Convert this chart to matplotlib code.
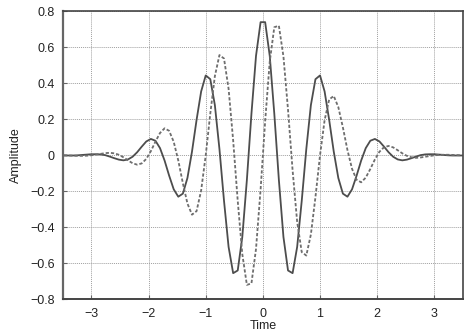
import matplotlib
matplotlib.use("Agg")
import matplotlib.pyplot as plt

plt.rcParams['font.family'] = ['Liberation Sans', 'DejaVu Sans']

# sample times (s)
time = [-3.48, -3.40, -3.32, -3.24, -3.16, -3.08, -3.00, -2.92, -2.84, -2.76,
        -2.68, -2.60, -2.52, -2.44, -2.36, -2.28, -2.20, -2.12, -2.04, -1.96,
        -1.88, -1.80, -1.72, -1.64, -1.56, -1.48, -1.40, -1.32, -1.24, -1.16,
        -1.08, -1.00, -0.92, -0.84, -0.76, -0.68, -0.60, -0.52, -0.44, -0.36,
        -0.28, -0.20, -0.12, -0.04,
        0.04, 0.12, 0.20, 0.28, 0.36, 0.44, 0.52, 0.60, 0.68, 0.76,
        0.84, 0.92, 1.00, 1.08, 1.16, 1.24, 1.32, 1.40, 1.48, 1.56,
        1.64, 1.72, 1.80, 1.88, 1.96, 2.04, 2.12, 2.20, 2.28, 2.36,
        2.44, 2.52, 2.60, 2.68, 2.76, 2.84, 2.92, 3.00, 3.08, 3.16,
        3.24, 3.32, 3.40, 3.48]

# solid curve
real_part = [-0.001, -0.001, -0.001, 0.000, 0.002, 0.004, 0.006, 0.006, 0.005, 0.001,
             -0.007, -0.016, -0.024, -0.028, -0.023, -0.008, 0.017, 0.048, 0.077, 0.091,
             0.081, 0.040, -0.029, -0.113, -0.189, -0.230, -0.213, -0.126, 0.021, 0.197,
             0.355, 0.444, 0.423, 0.279, 0.035, -0.253, -0.509, -0.655, -0.640, -0.454,
             -0.137, 0.231, 0.553, 0.740,
             0.740, 0.553, 0.231, -0.137, -0.454, -0.640, -0.655, -0.509, -0.253, 0.035,
             0.279, 0.423, 0.444, 0.355, 0.197, 0.021, -0.126, -0.213, -0.230, -0.189,
             -0.113, -0.029, 0.040, 0.081, 0.091, 0.077, 0.048, 0.017, -0.008, -0.023,
             -0.028, -0.024, -0.016, -0.007, 0.001, 0.005, 0.006, 0.006, 0.004, 0.002,
             0.000, -0.001, -0.001, -0.001]

# dashed curve
imag_part = [-0.000, -0.001, -0.002, -0.003, -0.003, -0.002, 0.000, 0.004, 0.008, 0.012,
             0.014, 0.011, 0.003, -0.011, -0.028, -0.044, -0.052, -0.045, -0.020, 0.023,
             0.076, 0.124, 0.150, 0.136, 0.075, -0.029, -0.155, -0.268, -0.330, -0.310,
             -0.195, 0.000, 0.232, 0.440, 0.557, 0.538, 0.370, 0.083, -0.253, -0.549,
             -0.720, -0.712, -0.520, -0.190,
             0.190, 0.520, 0.712, 0.720, 0.549, 0.253, -0.083, -0.370, -0.538, -0.557,
             -0.440, -0.232, 0.000, 0.195, 0.310, 0.330, 0.268, 0.155, 0.029, -0.075,
             -0.136, -0.150, -0.124, -0.076, -0.023, 0.020, 0.045, 0.052, 0.044, 0.028,
             0.011, -0.003, -0.011, -0.014, -0.012, -0.008, -0.004, 0.000, 0.002, 0.003,
             0.003, 0.002, 0.001, 0.000]

x_ticks = [-3, -2, -1, 0, 1, 2, 3]
y_ticks = [-0.8, -0.6, -0.4, -0.2, 0, 0.2, 0.4, 0.6, 0.8]
y_labels = ['\u22120.8', '\u22120.6', '\u22120.4', '\u22120.2', '0', '0.2', '0.4', '0.6', '0.8']
x_labels = ['\u22123', '\u22122', '\u22121', '0', '1', '2', '3']

fig = plt.figure(figsize=(4.69, 3.34), dpi=100)
ax = fig.add_axes([0.134, 0.104, 0.853, 0.862])

ax.plot(time, real_part, color='#4d4d4d', lw=1.3)
ax.plot(time, imag_part, color='#6e6e6e', lw=1.3, linestyle=(0, (1.8, 1.1)))

ax.set_xlim(-3.5, 3.5)
ax.set_ylim(-0.8, 0.8)
ax.set_xticks(x_ticks)
ax.set_xticklabels(x_labels)
ax.set_yticks(y_ticks)
ax.set_yticklabels(y_labels)
ax.tick_params(direction='in', length=3, width=0.8, colors='#666666',
               labelcolor='#222222', labelsize=9, pad=6)

ax.grid(True, color='#a0a0a0', linestyle=(0, (1, 1)), linewidth=0.7)
for side in ['left', 'bottom', 'top', 'right']:
    ax.spines[side].set_color('#444444')
ax.spines['left'].set_linewidth(1.6)
ax.spines['left'].set_color('#666666')
ax.spines['bottom'].set_linewidth(1.4)
ax.spines['top'].set_linewidth(1.2)
ax.spines['right'].set_linewidth(1.2)

ax.set_xlabel('Time', fontsize=9, color='#222222', labelpad=0)
ax.set_ylabel('Amplitude', fontsize=9, color='#222222', labelpad=6)

fig.savefig('out.png', dpi=100)
